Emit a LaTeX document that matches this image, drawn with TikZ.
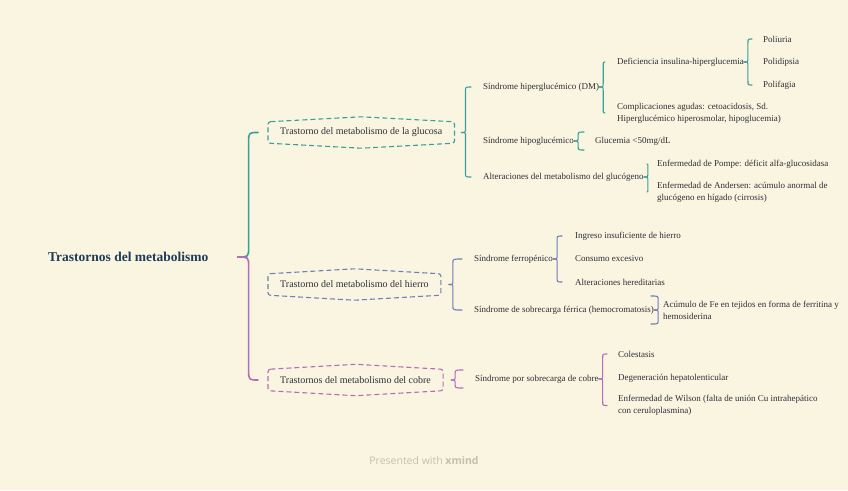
\documentclass[tikz,border=0pt]{standalone}
\usepackage{fontspec}
\setmainfont{Liberation Serif}
\newfontfamily\footfont{Open Sans}
\usetikzlibrary{calc}
\definecolor{bg}{HTML}{F9F5E0}
\definecolor{teal}{HTML}{3A9E99}
\definecolor{ironblue}{HTML}{6E80B8}
\definecolor{copper}{HTML}{B26DBB}
\definecolor{ink}{HTML}{2E2E38}
\definecolor{navy}{HTML}{1F3B5A}
\definecolor{footgray}{HTML}{C4C0AB}
% #1 top style, #2 bottom style, #3 parent anchor, #4 top child anchor, #5 bottom child anchor,
% #6 tip gap, #7 width, #8 end gap, #9 radius
\newcommand\xbrace[9]{%
 \coordinate (bt) at ($(#3)+(#6,0)$);
 \coordinate (bv) at ($(bt)+(#7,0)$);
 \coordinate (ba) at ($(#4)+(-#8,0)$);
 \coordinate (bb) at ($(#5)+(-#8,0)$);
 \draw[brc,#1] (ba) .. controls (bv|-ba) .. ($(bv|-ba)+(0,#9)$) -- ($(bv)+(0,-#9)$) .. controls (bv) .. (bt);
 \draw[brc,#2] (bt) .. controls (bv) .. ($(bv)+(0,#9)$) -- ($(bv|-bb)+(0,-#9)$) .. controls (bv|-bb) .. (bb);
}
\newcommand\hexbox[2]{%
 \draw[dbox,#2] (#1.north west) -- ($(#1.north)+(0,-5)$) -- (#1.north east) -- (#1.south east) -- ($(#1.south)+(0,5)$) -- (#1.south west) -- cycle;
}
\begin{document}
\begin{tikzpicture}[x=1pt,y=-1pt,
 txt/.style={anchor=west, inner sep=0pt, font=\fontsize{9}{12}\selectfont, text=ink, align=left},
 lone/.style={anchor=west, inner xsep=12pt, inner ysep=0pt, minimum height=21pt, font=\fontsize{10}{12}\selectfont, text=ink},
 brc/.style={line width=1.1pt, line cap=round, line join=round},
 dbox/.style={line width=1.1pt, dash pattern=on 5pt off 3pt, rounded corners=2.5pt}]
\fill[bg] (0,0) rectangle (848,490);
\useasboundingbox (0,0) rectangle (848,490);

\node[anchor=west, inner sep=0pt, font=\fontsize{13.5}{15}\selectfont\bfseries, text=navy] (root) at (48,257) {Trastornos del metabolismo};

\node[lone] (g) at (268,132.5) {Trastorno del metabolismo de la glucosa};
\node[lone] (h) at (268,284.5) {Trastorno del metabolismo del hierro};
\node[lone] (c) at (268,380) {Trastornos del metabolismo del cobre};
\hexbox{g}{teal}
\hexbox{h}{ironblue}
\hexbox{c}{copper}

\node[txt] (g1) at (483,87) {Síndrome hiperglucémico (DM)};
\node[txt] (g2) at (483,141) {Síndrome hipoglucémico};
\node[txt] (g3) at (483,177) {Alteraciones del metabolismo del glucógeno};
\node[txt] (g11) at (617,62) {Deficiencia insulina-hiperglucemia};
\node[txt] (g12) at (617,113) {Complicaciones agudas: cetoacidosis, Sd.\\Hiperglucémico hiperosmolar, hipoglucemia)};
\node[txt] (g111) at (763,39) {Poliuria};
\node[txt] (g112) at (763,62) {Polidipsia};
\node[txt] (g113) at (763,85) {Polifagia};
\node[txt] (g21) at (595,141) {Glucemia <50mg/dL};
\node[txt] (g31) at (657,164) {Enfermedad de Pompe: déficit alfa-glucosidasa};
\node[txt] (g32) at (657,192) {Enfermedad de Andersen: acúmulo anormal de\\glucógeno en hígado (cirrosis)};

\node[txt] (h1) at (474,259) {Síndrome ferropénico};
\node[txt] (h2) at (474,310) {Síndrome de sobrecarga férrica (hemocromatosis)};
\node[txt] (h11) at (575,236) {Ingreso insuficiente de hierro};
\node[txt] (h12) at (575,259) {Consumo excesivo};
\node[txt] (h13) at (575,282) {Alteraciones hereditarias};
\node[txt] (h21) at (663,310) {Acúmulo de Fe en tejidos en forma de ferritina y\\hemosiderina};

\node[txt] (c1) at (475,379) {Síndrome por sobrecarga de cobre};
\node[txt] (c11) at (618,354) {Colestasis};
\node[txt] (c12) at (618,378) {Degeneración hepatolenticular};
\node[txt] (c13) at (618,405.5) {Enfermedad de Wilson (falta de unión Cu intrahepático\\con ceruloplasmina)};

\coordinate (g21a) at ($(g21.west)+(0,-9)$);
\coordinate (g21b) at ($(g21.west)+(0,9)$);
\coordinate (c1a) at ($(c1.west)+(0,-9)$);
\coordinate (c1b) at ($(c1.west)+(0,9)$);
\coordinate (h21a) at ($(h21.west)+(0,-14)$);
\coordinate (h21b) at ($(h21.west)+(0,14)$);

\xbrace{teal,line width=1.6pt}{copper,line width=1.6pt}{root.east}{g.west}{c.west}{29}{11}{10}{10}
\xbrace{teal}{teal}{g.east}{g1.west}{g3.west}{7}{4}{12}{4}
\xbrace{ironblue}{ironblue}{h.east}{h1.west}{h2.west}{8}{4}{12}{4}
\xbrace{copper}{copper}{c.east}{c1a}{c1b}{8}{4}{12}{4}
\xbrace{teal}{teal}{g1.east}{g11.west}{g12.west}{0}{4}{12}{4}
\xbrace{teal}{teal}{g11.east}{g111.west}{g113.west}{0}{4}{11}{4}
\xbrace{teal}{teal}{g2.east}{g21a}{g21b}{0}{4}{11}{4}
\xbrace{teal}{teal}{g3.east}{g31.west}{g32.west}{0}{4}{10}{4}
\xbrace{ironblue}{ironblue}{h1.east}{h11.west}{h13.west}{0}{4}{13}{4}
\xbrace{ironblue}{ironblue}{h2.east}{h21a}{h21b}{0}{4}{12}{4}
\xbrace{copper}{copper}{c1.east}{c11.west}{c13.west}{0}{4}{11}{4}

\node[text=footgray, font=\footfont\fontsize{10.5}{12}\selectfont] (foot) at (424,461) {Presented with \textbf{xmind}};
\end{tikzpicture}
\end{document}
